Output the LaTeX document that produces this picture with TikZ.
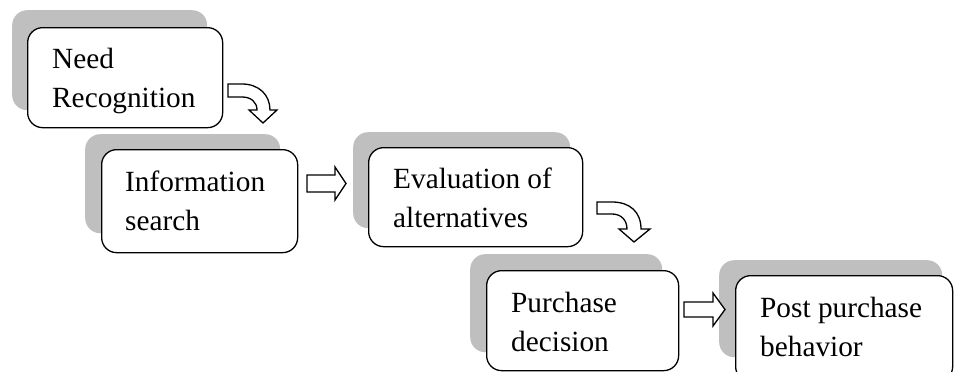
\documentclass[tikz,border=0pt]{standalone}
\usepackage{fontspec}
\setmainfont{Liberation Serif}
\newcommand\twoln[2]{\vtop{\baselineskip=39.5pt\hbox{#1}\hbox{#2}}}
\begin{document}
\begin{tikzpicture}[x=1pt,y=-1pt,
  shadowbox/.style={fill=black!25, draw=none, rounded corners=15pt, inner sep=0pt, anchor=north west},
  whitebox/.style={fill=white, draw=black, line width=1.3pt, rounded corners=15pt, inner sep=0pt, anchor=north west},
  boxtext/.style={font=\fontsize{29.3}{39.5}\selectfont, anchor=base west, inner sep=0pt},
  blockarrow/.style={draw=black, fill=white, line width=1.3pt, line join=miter}]
\useasboundingbox (0,0) rectangle (954,372);
% box 1
\node[shadowbox, minimum width=195, minimum height=100] (s1) at (12,10) {};
\node[whitebox, minimum width=195, minimum height=100] (b1) at (27,27) {};
\node[boxtext] (t1) at (52,68) {\twoln{Need}{Recognition}};
% box 2
\node[shadowbox, minimum width=195, minimum height=99] (s2) at (85,134) {};
\node[whitebox, minimum width=196, minimum height=103] (b2) at (101,149) {};
\node[boxtext] (t2) at (125,191) {\twoln{Information}{search}};
% box 3
\node[shadowbox, minimum width=217, minimum height=96] (s3) at (353,132) {};
\node[whitebox, minimum width=214, minimum height=99] (b3) at (368,147) {};
\node[boxtext] (t3) at (393,188) {\twoln{Evaluation of}{alternatives}};
% box 4
\node[shadowbox, minimum width=192, minimum height=98] (s4) at (470,254) {};
\node[whitebox, minimum width=192, minimum height=100] (b4) at (486,270) {};
\node[boxtext] (t4) at (511,312) {\twoln{Purchase}{decision}};
% box 5
\node[shadowbox, minimum width=223, minimum height=97] (s5) at (719,260) {};
\node[whitebox, minimum width=217, minimum height=106] (b5) at (735,275) {};
\node[boxtext] (t5) at (760,317) {\twoln{Post purchase}{behavior}};
% curved arrow A
\draw[blockarrow] (228,84) -- (242,84) .. controls (259,84) and (270,95) .. (270,110)
  -- (277,110) -- (263,123) -- (249,110) -- (257,110)
  .. controls (257,102) and (251,97) .. (242,97) -- (228,97) -- cycle;
% straight arrow B
\draw[blockarrow] (307,175) -- (335,175) -- (335,167) -- (346,183.5) -- (335,200)
  -- (335,192) -- (307,192) -- cycle;
% curved arrow C
\draw[blockarrow] (597,202) -- (612,202) .. controls (630,202) and (641,212) .. (641,229)
  -- (650,229) -- (634,242) -- (619,229) -- (627,229)
  .. controls (627,220) and (621,214) .. (612,214) -- (597,214) -- cycle;
% straight arrow D
\draw[blockarrow] (684,302) -- (713,302) -- (713,293) -- (725,309.5) -- (713,326)
  -- (713,317) -- (684,317) -- cycle;
\end{tikzpicture}
\end{document}
